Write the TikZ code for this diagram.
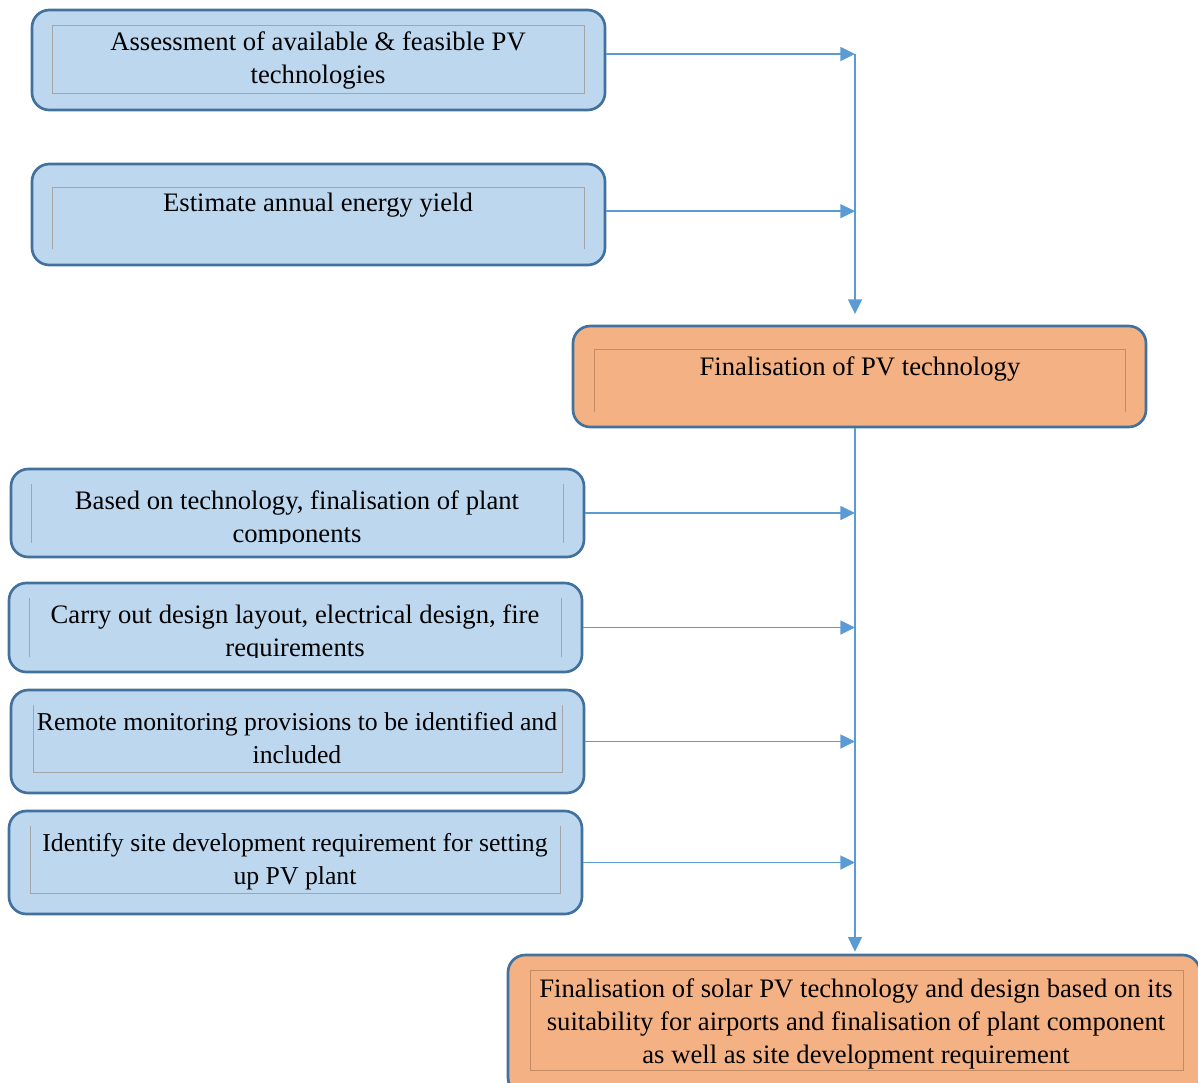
\documentclass[tikz,border=0pt]{standalone}
\usepackage{fontspec}
\setmainfont{Liberation Serif}
\usetikzlibrary{arrows.meta}

\definecolor{boxblue}{HTML}{BDD7EE}
\definecolor{boxorange}{HTML}{F4B183}
\definecolor{edgeblue}{HTML}{41719C}
\definecolor{flowblue}{HTML}{5B9BD5}
\definecolor{innergray}{HTML}{A5A5A5}
\definecolor{innerbrown}{HTML}{C48A62}

\tikzset{
  bluebox/.style={draw=edgeblue, fill=boxblue, line width=2pt, rounded corners=13pt,
    minimum width=429.75pt, inner sep=0pt},
  orangebox/.style={bluebox, fill=boxorange},
  innerline/.style={draw=innergray, line width=0.6pt},
  innerorange/.style={draw=innerbrown, line width=0.6pt},
  txt/.style={align=center, inner sep=0pt, anchor=north,
    font=\fontsize{20}{24.75}\selectfont},
  txtsmall/.style={txt, font=\fontsize{19.3}{24.75}\selectfont},
  flow/.style={draw=flowblue, line width=1.1pt, -{Triangle[length=11pt,width=10.5pt]}}
}

\begin{document}
\begin{tikzpicture}[x=0.75pt,y=0.75pt,yscale=-1]
\useasboundingbox (0,0) rectangle (1198,1082);

%Shape: Rounded Rect [id:assess]
\node[bluebox, minimum height=75pt] (assess) at (318.5,60) {};
\draw[innerline] (52,25) rectangle (584,93);
% Text Node
\node[txt] (assesstxt) at (318,31) {Assessment of available \& feasible PV\\technologies};

%Shape: Rounded Rect [id:yield]
\node[bluebox, minimum height=75.75pt] (yield) at (318.5,214.5) {};
\draw[innerline] (52,249) -- (52,187) -- (584,187) -- (584,249);
% Text Node
\node[txt] (yieldtxt) at (318,193) {Estimate annual energy yield};

%Shape: Rounded Rect [id:finpv]
\node[orangebox, minimum height=75.75pt] (finpv) at (859.5,376.5) {};
\draw[innerorange] (594,412) -- (594,349) -- (1125,349) -- (1125,412);
% Text Node
\node[txt] (finpvtxt) at (860,356) {Finalisation of PV technology};

%Shape: Rounded Rect [id:basis]
\node[bluebox, minimum height=66pt] (basis) at (297.5,513) {};
\draw[innerline] (31,484) -- (31,543) (563,484) -- (563,543);
% Text Node
\begin{scope}
\clip (31,484) rectangle (563,543);
\node[txt] (basistxt) at (297,490) {Based on technology, finalisation of plant\\components};
\end{scope}

%Shape: Rounded Rect [id:layout]
\node[bluebox, minimum height=66.75pt] (layout) at (295.5,627.5) {};
\draw[innerline] (29,598) -- (29,657) (561,598) -- (561,657);
% Text Node
\begin{scope}
\clip (29,598) rectangle (561,657);
\node[txt] (layouttxt) at (295,604) {Carry out design layout, electrical design, fire\\requirements};
\end{scope}

%Shape: Rounded Rect [id:remote]
\node[bluebox, minimum height=77.25pt] (remote) at (297.5,741.5) {};
\draw[innerline] (33,705) -- (33,772) -- (562,772) -- (562,705);
% Text Node
\node[txtsmall] (remotetxt) at (297,712) {Remote monitoring provisions to be identified and\\included};

%Shape: Rounded Rect [id:site]
\node[bluebox, minimum height=77.25pt] (site) at (295.5,862.5) {};
\draw[innerline] (30,826) -- (30,893) -- (560,893) -- (560,826);
% Text Node
\node[txtsmall] (sitetxt) at (295,833) {Identify site development requirement for setting\\up PV plant};

%Shape: Rounded Rect [id:final]
\node[orangebox, minimum width=519pt, minimum height=105pt] (final) at (854,1025) {};
\draw[innerorange] (530,970) rectangle (1183,1070);
% Text Node
\node[txt] (finaltxt) at (856,978) {Finalisation of solar PV technology and design based on its\\suitability for airports and finalisation of plant component\\as well as site development requirement};

% Connectors
\coordinate (j1) at (855,54);
\draw[flow] ([yshift=-4.5pt]assess.east) -- ([yshift=-4.5pt]assess.east -| j1);
\draw[flow] ([yshift=-2.5pt]yield.east) -- ([yshift=-2.5pt]yield.east -| j1);
\draw[flow, shorten >=8pt] (j1) -- (finpv.north -| j1);
\draw[flow, shorten >=1.5pt] (finpv.south -| j1) -- (final.north -| j1);
\draw[flow] (basis.east) -- (basis.east -| j1);
\draw[flow] (layout.east) -- (layout.east -| j1);
\draw[flow] (remote.east) -- (remote.east -| j1);
\draw[flow] (site.east) -- (site.east -| j1);

\end{tikzpicture}
\end{document}
